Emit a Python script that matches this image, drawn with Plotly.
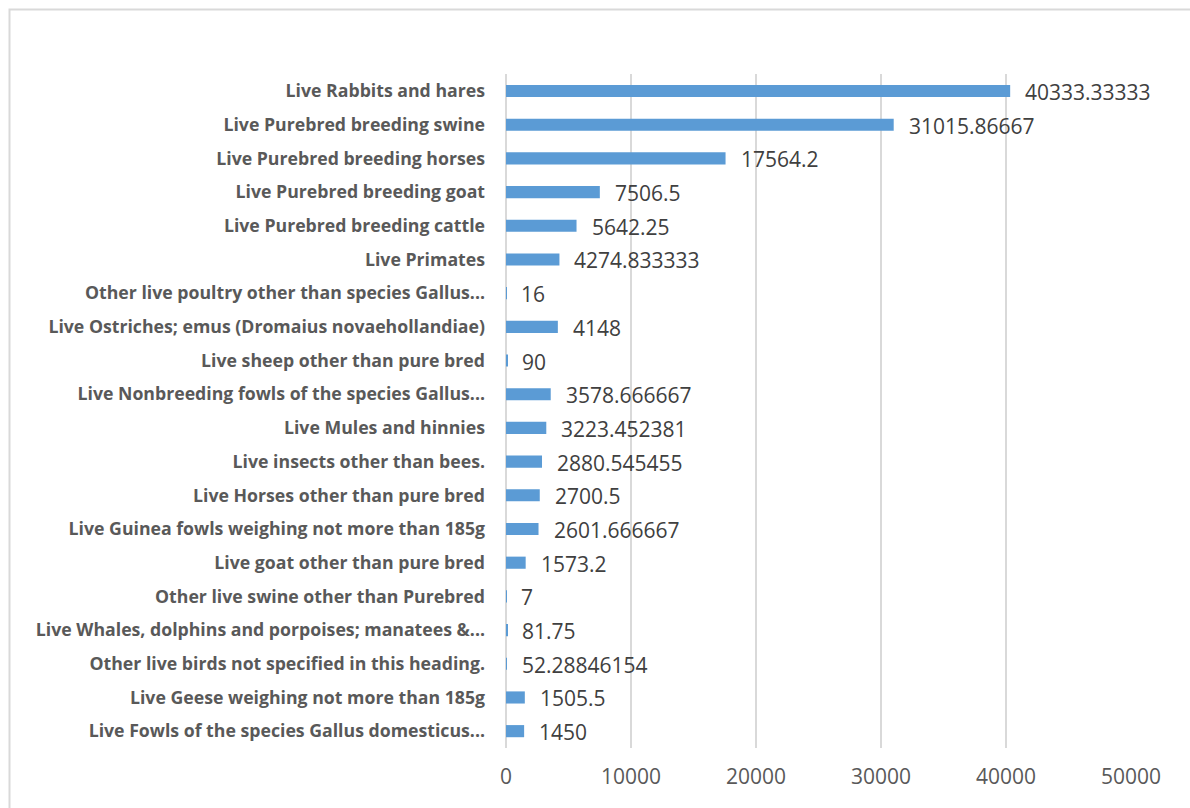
import plotly.graph_objects as go

# Categories, top to bottom
categories = [
    "Live Rabbits and hares",
    "Live Purebred breeding swine",
    "Live Purebred breeding horses",
    "Live Purebred breeding goat",
    "Live Purebred breeding cattle",
    "Live Primates",
    "Other live poultry other than species Gallus...",
    "Live Ostriches; emus (Dromaius novaehollandiae)",
    "Live sheep other than pure bred",
    "Live Nonbreeding fowls of the species Gallus...",
    "Live Mules and hinnies",
    "Live insects other than bees.",
    "Live Horses other than pure bred",
    "Live Guinea fowls weighing not more than 185g",
    "Live goat other than pure bred",
    "Other live swine other than Purebred",
    "Live Whales, dolphins and porpoises; manatees &...",
    "Other live birds not specified in this heading.",
    "Live Geese weighing not more than 185g",
    "Live Fowls of the species Gallus domesticus...",
]

values = [
    40333.33333, 31015.86667, 17564.2, 7506.5, 5642.25, 4274.833333, 16,
    4148, 90, 3578.666667, 3223.452381, 2880.545455, 2700.5, 2601.666667,
    1573.2, 7, 81.75, 52.28846154, 1505.5, 1450,
]

value_labels = [
    "40333.33333", "31015.86667", "17564.2", "7506.5", "5642.25",
    "4274.833333", "16", "4148", "90", "3578.666667", "3223.452381",
    "2880.545455", "2700.5", "2601.666667", "1573.2", "7", "81.75",
    "52.28846154", "1505.5", "1450",
]

x_ticks = [0, 10000, 20000, 30000, 40000, 50000]

NUM_FONT = "Open Sans, Lato, sans-serif"

fig = go.Figure(
    go.Bar(
        x=values,
        y=categories,
        orientation="h",
        marker=dict(color="#5B9BD5", line=dict(width=0)),
        width=0.36,
        hoverinfo="x+y",
    )
)

# Value labels placed just past each bar end
for cat, val, lab in zip(categories, values, value_labels):
    fig.add_annotation(
        x=val, y=cat, text=lab, showarrow=False,
        xanchor="left", yanchor="middle", xshift=13, yshift=-1,
        font=dict(family=NUM_FONT, size=21, color="#404040"),
    )

# Outer chart frame
fig.add_shape(
    type="rect", xref="paper", yref="paper",
    x0=(9.5 - 506) / 625, x1=1.2, y0=-0.2, y1=(748 - 9.5) / 674,
    line=dict(color="#D9D9D9", width=2), fillcolor="rgba(0,0,0,0)",
    layer="below",
)

fig.update_layout(
    width=1190, height=808,
    margin=dict(l=506, r=59, t=74, b=60),
    paper_bgcolor="white", plot_bgcolor="white",
    showlegend=False,
    xaxis=dict(
        range=[0, 50000], tickvals=x_ticks, ticktext=[str(t) for t in x_ticks],
        showgrid=True, gridcolor="#D9D9D9", gridwidth=2,
        zeroline=True, zerolinecolor="#D9D9D9", zerolinewidth=2,
        showline=False, ticks="",
        tickfont=dict(family=NUM_FONT, size=21, color="#595959"),
        ticklabelstandoff=14,
    ),
    yaxis=dict(
        autorange="reversed", showgrid=False, zeroline=False, showline=False,
        ticks="", ticklabelstandoff=20,
        tickfont=dict(family="Open Sans, sans-serif", size=17.7, color="#595959", weight="bold"),
    ),
)

fig.write_html("out.html")
